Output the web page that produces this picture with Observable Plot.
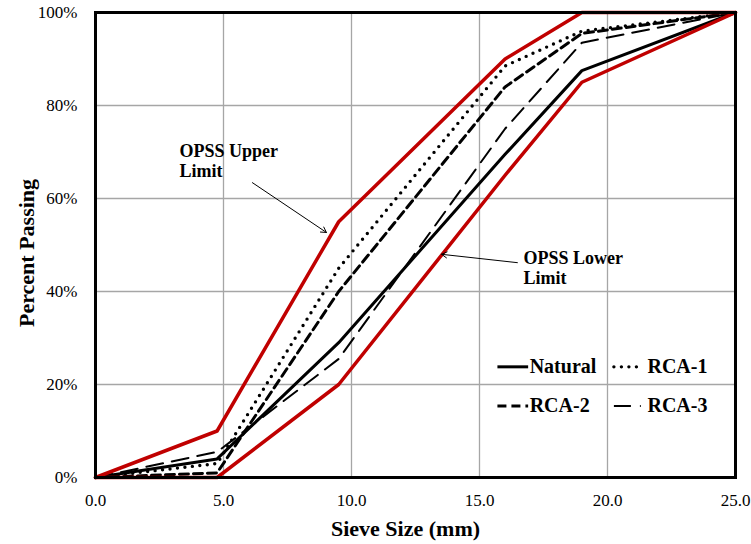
<!DOCTYPE html>
<html>
<head>
<meta charset="utf-8">
<script src="https://cdn.jsdelivr.net/npm/d3@7"></script>
<script src="https://cdn.jsdelivr.net/npm/@observablehq/plot@0.6"></script>
<style>
  html, body { margin: 0; padding: 0; background: white; }
  svg text { font-family: 'Liberation Serif', 'Times New Roman', serif; }
</style>
</head>
<body>
<div id="chart"></div>
<script>
// Sieve sizes (mm)
const sieve = [0, 4.75, 9.5, 16, 19, 25];
// Percent passing
const upperLimit = [0, 10, 55, 90, 100, 100];
const lowerLimit = [0, 0, 20, 65, 85, 100];
const natural = [0, 4, 29, 69.5, 87.5, 100];
const rca1 = [0, 3, 45, 88.5, 96, 100];
const rca2 = [0, 1, 40, 84, 95.5, 100];
const rca3 = [0, 5.5, 25.5, 75, 93.5, 100];

const seriesNames = ["Natural", "RCA-1", "RCA-2", "RCA-3"];
const limitNames = ["OPSS Upper Limit", "OPSS Lower Limit"];

const xTicks = [0, 5, 10, 15, 20, 25];
const yTicks = [0, 20, 40, 60, 80, 100];

// annotation texts and anchor/arrow positions in data units
const annoText = ["OPSS Upper\nLimit", "OPSS Lower\nLimit"];
const annoX = [3.28, 16.72];
const annoY = [72.0, 49.0];
const arrowX1 = [6.13, 16.48];
const arrowY1 = [63.4, 46.2];
const arrowX2 = [9.02, 13.52];
const arrowY2 = [52.7, 48.0];

const FONT = "'Liberation Serif', 'Times New Roman', serif";
const red = "#C00000";
const styles = {
  "Natural": {stroke: "black", strokeWidth: 3},
  "RCA-1": {stroke: "black", strokeWidth: 3.4, strokeDasharray: "0 7.5", strokeLinecap: "round"},
  "RCA-2": {stroke: "black", strokeWidth: 3, strokeDasharray: "9 5"},
  "RCA-3": {stroke: "black", strokeWidth: 2, strokeDasharray: "17 9"}
};
const valuesByName = {"Natural": natural, "RCA-1": rca1, "RCA-2": rca2, "RCA-3": rca3};

const toRows = (vals) => sieve.map((x, i) => ({x, y: vals[i]}));

const seriesMarks = seriesNames.map(n =>
  Plot.line(toRows(valuesByName[n]), {x: "x", y: "y", strokeLinejoin: "round", ...styles[n]})
);
const limitMarks = [upperLimit, lowerLimit].map(v =>
  Plot.line(toRows(v), {x: "x", y: "y", stroke: red, strokeWidth: 3.5, strokeLinejoin: "round"})
);

// legend (inside plot, 2x2)
const legendRows = seriesNames.map((name, i) => {
  const col = i % 2, row = Math.floor(i / 2);
  return {
    name,
    x1: [15.7, 20.25][col],
    x2: [16.9, 21.3][col],
    tx: [16.96, 21.56][col],
    y: [23.8, 15.4][row]
  };
});
const legendMarks = legendRows.map(r =>
  Plot.link([r], {x1: "x1", x2: "x2", y1: "y", y2: "y", ...styles[r.name]})
);

const annos = annoText.map((t, i) => ({t, x: annoX[i], y: annoY[i],
  x1: arrowX1[i], y1: arrowY1[i], x2: arrowX2[i], y2: arrowY2[i]}));

const chart = Plot.plot({
  width: 751,
  height: 544,
  marginLeft: 95,
  marginRight: 16,
  marginTop: 12,
  marginBottom: 67,
  style: {fontFamily: FONT, fontSize: "17px", color: "black", background: "white"},
  x: {domain: [0, 25]},
  y: {domain: [0, 100]},
  marks: [
    Plot.gridX(xTicks, {stroke: "#a6a6a6", strokeOpacity: 1, strokeWidth: 1.3}),
    Plot.gridY(yTicks, {stroke: "#a6a6a6", strokeOpacity: 1, strokeWidth: 1.3}),
    Plot.axisX(xTicks, {tickSize: 0, tickPadding: 16, fontSize: 17, fontFamily: FONT, label: null, tickFormat: d3.format(".1f")}),
    Plot.axisY(yTicks, {tickSize: 0, tickPadding: 18, fontSize: 17, fontFamily: FONT, label: null, tickFormat: d => d + "%"}),
    ...seriesMarks,
    ...limitMarks,
    Plot.frame({stroke: "black", strokeWidth: 3}),
    ...legendMarks,
    Plot.text(legendRows, {x: "tx", y: "y", text: "name", textAnchor: "start", fontSize: 20, fontWeight: "bold", fontFamily: FONT, fill: "black"}),
    Plot.text(annos, {x: "x", y: "y", text: "t", textAnchor: "start", lineAnchor: "top", lineHeight: 1.12, fontSize: 18, fontWeight: "bold", fontFamily: FONT, fill: "black"}),
    Plot.arrow(annos, {x1: "x1", y1: "y1", x2: "x2", y2: "y2", stroke: "black", strokeWidth: 1, headLength: 9, bend: 0}),
    Plot.text(["Sieve Size (mm)"], {frameAnchor: "bottom", textAnchor: "middle", lineAnchor: "middle", dy: 51, dx: -10, fontSize: 22, fontWeight: "bold", fontFamily: FONT, fill: "black"}),
    Plot.text(["Percent Passing"], {frameAnchor: "left", textAnchor: "middle", lineAnchor: "middle", rotate: -90, dx: -69, dy: 8, fontSize: 22, fontWeight: "bold", fontFamily: FONT, fill: "black"})
  ]
});
document.getElementById("chart").appendChild(chart);
</script>
</body>
</html>
